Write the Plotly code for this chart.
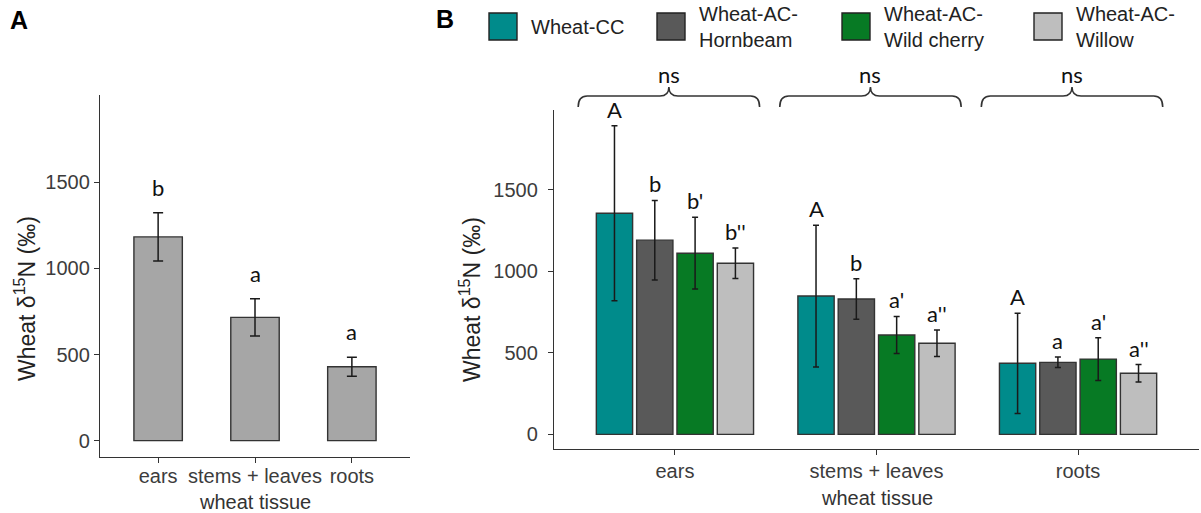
import plotly.graph_objects as go

# ---------------- data ----------------
tissues = ["ears", "stems + leaves", "roots"]

# Panel A: all wheat pooled per tissue
pooled_mean = [1183, 716, 429]
pooled_err = [140, 108, 55]
pooled_letters = ["b", "a", "a"]

# Panel B: wheat by treatment
treatment_names = ["Wheat-CC", "Wheat-AC-<br>Hornbeam", "Wheat-AC-<br>Wild cherry", "Wheat-AC-<br>Willow"]
treatment_colors = ["#008B8B", "#595959", "#077A24", "#BEBEBE"]

cc_mean = [1357, 849, 436]
cc_err = [537, 435, 308]
cc_letters = ["A", "A", "A"]

hornbeam_mean = [1192, 831, 442]
hornbeam_err = [244, 124, 32]
hornbeam_letters = ["b", "b", "a"]

cherry_mean = [1112, 610, 462]
cherry_err = [220, 114, 131]
cherry_letters = ["b'", "a'", "a'"]

willow_mean = [1050, 559, 375]
willow_err = [94, 81, 53]
willow_letters = ["b''", "a''", "a''"]

tissue_test = ["ns", "ns", "ns"]

# ---------------- layout geometry (pixels) ----------------
W, H = 1201, 513
A_X0, A_X1, A_Y0, A_Y1 = 100, 410, 95, 457
B_X0, B_X1, B_Y0, B_Y1 = 554, 1199, 110, 449


def px_x(px):
    return px / W


def px_y(py):
    return 1 - py / H


AXIS_COL = "#333333"
TICK_FONT = dict(family="Liberation Sans, Arial", size=20, color="#3C3C3C")
TEXT_FONT = dict(family="Liberation Sans, Arial", size=20, color="#222222")
LETTER_FONT = dict(family="Lato, Carlito, sans-serif", size=22, color="#111111")

xpos = [i + 1 for i in range(len(tissues))]
X_RANGE = [0.4, len(tissues) + 0.6]

fig = go.Figure()

# Panel A bars
fig.add_trace(go.Bar(
    x=xpos, y=pooled_mean, width=0.5,
    marker=dict(color="#A6A6A6", line=dict(color=AXIS_COL, width=1.4)),
    error_y=dict(type="data", array=pooled_err, color="#1A1A1A", thickness=1.5, width=5),
    xaxis="x", yaxis="y", showlegend=False,
))

# Panel B grouped bars
series_means = [cc_mean, hornbeam_mean, cherry_mean, willow_mean]
series_errs = [cc_err, hornbeam_err, cherry_err, willow_err]
series_letters = [cc_letters, hornbeam_letters, cherry_letters, willow_letters]
for name, col, m, e in zip(treatment_names, treatment_colors, series_means, series_errs):
    fig.add_trace(go.Bar(
        x=xpos, y=m, name=name.replace("<br>", " "),
        marker=dict(color=col, line=dict(color=AXIS_COL, width=1.4)),
        error_y=dict(type="data", array=e, color="#1A1A1A", thickness=1.5, width=3),
        xaxis="x2", yaxis="y2", showlegend=False,
    ))

annotations = []
shapes = []

# significance letters, panel A
for x, m, e, lab in zip(xpos, pooled_mean, pooled_err, pooled_letters):
    annotations.append(dict(x=x, y=m + e, xref="x", yref="y", text=lab, showarrow=False,
                            xanchor="center", yanchor="bottom", yshift=10, font=LETTER_FONT))

# significance letters, panel B
GROUP_WIDTH = 0.8
slot = GROUP_WIDTH / len(series_means)
for k, (m_list, e_list, l_list) in enumerate(zip(series_means, series_errs, series_letters)):
    off = (k - (len(series_means) - 1) / 2) * slot
    for x, m, e, lab in zip(xpos, m_list, e_list, l_list):
        annotations.append(dict(x=x + off, y=m + e, xref="x2", yref="y2", text=lab, showarrow=False,
                                xanchor="center", yanchor="bottom", yshift=1, font=LETTER_FONT))

# braces with "ns" above each tissue group
b_width_px = B_X1 - B_X0


def to_dom(xv):
    return (xv - X_RANGE[0]) / (X_RANGE[1] - X_RANGE[0])


y_line, y_end, y_cusp = px_y(96), px_y(107), px_y(87)
rx = 9 / b_width_px
for x, lab in zip(xpos, tissue_test):
    xl, xr = to_dom(x - 0.48), to_dom(x + 0.42)
    xc = (xl + xr) / 2
    path = (f"M {xl},{y_end} Q {xl},{y_line} {xl + rx},{y_line} "
            f"L {xc - rx},{y_line} Q {xc},{y_line} {xc},{y_cusp} "
            f"Q {xc},{y_line} {xc + rx},{y_line} "
            f"L {xr - rx},{y_line} Q {xr},{y_line} {xr},{y_end}")
    shapes.append(dict(type="path", path=path, xref="x2 domain", yref="paper",
                       line=dict(color="#333333", width=1.6)))
    annotations.append(dict(x=xc, y=px_y(74), xref="x2 domain", yref="paper", text=lab,
                            showarrow=False, xanchor="center", yanchor="middle", font=LETTER_FONT))

# legend drawn as boxes with labels across the top of panel B
legend_left_px = [489, 657, 842, 1034]
for left, name, col in zip(legend_left_px, treatment_names, treatment_colors):
    shapes.append(dict(type="rect", xref="paper", yref="paper",
                       x0=px_x(left), x1=px_x(left + 28), y0=px_y(40), y1=px_y(13),
                       fillcolor=col, line=dict(color="#222222", width=1.4)))
    annotations.append(dict(x=px_x(left + 40), y=px_y(27), xref="paper", yref="paper",
                            text=name, showarrow=False, xanchor="left", yanchor="middle",
                            align="left", font=TEXT_FONT))

# panel tags
TAG_FONT = dict(family="Liberation Sans, Arial", size=25, color="#000000")
annotations.append(dict(x=px_x(8), y=px_y(20), xref="paper", yref="paper", text="<b>A</b>",
                        showarrow=False, xanchor="left", yanchor="middle", font=TAG_FONT))
annotations.append(dict(x=px_x(434), y=px_y(19), xref="paper", yref="paper", text="<b>B</b>",
                        showarrow=False, xanchor="left", yanchor="middle", font=TAG_FONT))

# axis titles
ytitle = "Wheat δ<sup>15</sup>N (‰)"
annotations.append(dict(x=px_x(25), y=px_y(299), xref="paper", yref="paper", text=ytitle,
                        showarrow=False, textangle=-90, xanchor="center", yanchor="middle",
                        font=dict(TEXT_FONT, size=23)))
annotations.append(dict(x=px_x(470), y=px_y(300), xref="paper", yref="paper", text=ytitle,
                        showarrow=False, textangle=-90, xanchor="center", yanchor="middle",
                        font=dict(TEXT_FONT, size=23)))
annotations.append(dict(x=px_x((A_X0 + A_X1) / 2), y=px_y(502), xref="paper", yref="paper",
                        text="wheat tissue", showarrow=False, xanchor="center", yanchor="middle",
                        font=dict(TEXT_FONT, color="#333333")))
annotations.append(dict(x=px_x((B_X0 + B_X1) / 2), y=px_y(498), xref="paper", yref="paper",
                        text="wheat tissue", showarrow=False, xanchor="center", yanchor="middle",
                        font=dict(TEXT_FONT, color="#333333")))

axis_common = dict(showline=True, linecolor=AXIS_COL, linewidth=1.4, showgrid=False, zeroline=False,
                   ticks="outside", ticklen=5, tickwidth=1.4, tickcolor=AXIS_COL, tickfont=TICK_FONT)

fig.update_layout(
    width=W, height=H,
    margin=dict(l=0, r=0, t=0, b=0),
    paper_bgcolor="white", plot_bgcolor="white",
    barmode="group", bargap=0.2, bargroupgap=0.1,
    showlegend=False,
    xaxis=dict(axis_common, domain=[px_x(A_X0), px_x(A_X1)], range=X_RANGE,
               tickvals=xpos, ticktext=tissues, anchor="y", ticklabelstandoff=-4),
    yaxis=dict(axis_common, domain=[px_y(A_Y1), px_y(A_Y0)], range=[-95, 2007],
               tickvals=[0, 500, 1000, 1500], anchor="x", ticklabelstandoff=0),
    xaxis2=dict(axis_common, domain=[px_x(B_X0), px_x(B_X1)], range=X_RANGE,
                tickvals=xpos, ticktext=tissues, anchor="y2", ticklabelstandoff=-1),
    yaxis2=dict(axis_common, domain=[px_y(B_Y1), px_y(B_Y0)], range=[-90, 1991],
                tickvals=[0, 500, 1000, 1500], anchor="x2", ticklabelstandoff=6),
    annotations=annotations,
    shapes=shapes,
)

fig.write_html("out.html")
